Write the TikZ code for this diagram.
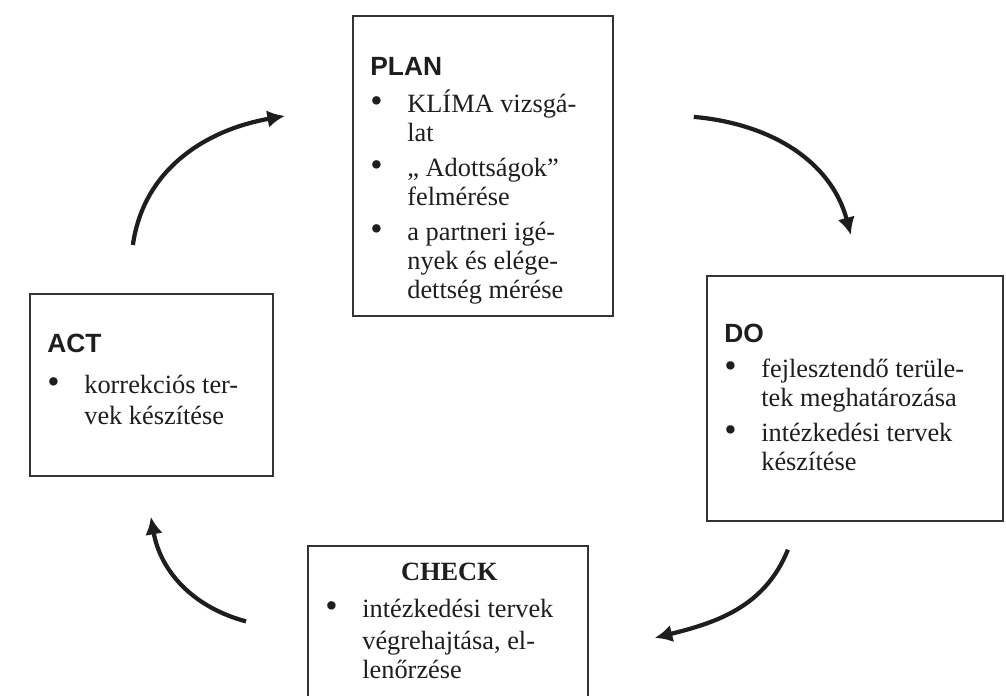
\documentclass[tikz,border=0pt]{standalone}
\usepackage{fontspec}
\setmainfont{Liberation Serif}
\setsansfont{Liberation Sans}
\usepackage{tikz}
\usetikzlibrary{calc,positioning,arrows.meta}
\usepackage{xcolor}
\definecolor{inkdark}{HTML}{1E1E1E}
\definecolor{boxline}{HTML}{333333}

\newcommand{\hd}[1]{{\sffamily\bfseries #1}}
\newcommand{\bl}{{\fontsize{20}{16}\selectfont\textbullet}}

\begin{document}
\begin{tikzpicture}[
      every node/.style={text=inkdark},
      pdcabox/.style={draw=boxline, line width=1pt, anchor=north west, inner sep=0pt},
      pdcatext/.style={anchor=base west, inner sep=0pt, font=\fontsize{15}{16.5}\selectfont},
      cyc/.style={-{Latex[length=10pt,width=10pt]}, line width=2.4pt, draw=inkdark}
    ]
      \def\bw{0.74cm}
      % page
      \fill[white] (0,0) rectangle (20.12,-13.9);
      \path[use as bounding box, clip] (0,0) rectangle (20.12,-13.9);

      % Boxes
      \node[pdcabox, minimum width=5.2cm, minimum height=6cm] (plan) at (7.04,-0.30) {};
      \node[pdcabox, minimum width=4.86cm, minimum height=3.64cm] (act) at (0.58,-5.86) {};
      \node[pdcabox, minimum width=5.92cm, minimum height=4.9cm] (do) at (14.12,-5.50) {};
      \node[pdcabox, minimum width=5.6cm, minimum height=3.3cm] (check) at (6.14,-10.90) {};

      % Texts
      \node[pdcatext] (plantxt) at ($(plan.north west)+(0.36,-1.2)$) {
        \begin{tabular}[t]{@{}p{\bw}@{}l@{}}
          \multicolumn{2}{@{}l@{}}{\hd{PLAN}}\\[3.5pt]
          \bl & KLÍMA vizsgá-\\
              & lat\\[3.5pt]
          \bl & „ Adottságok”\\
              & felmérése\\[3.5pt]
          \bl & a partneri igé-\\
              & nyek és elége-\\
              & dettség mérése
        \end{tabular}
      };
      \node[pdcatext] (acttxt) at ($(act.north west)+(0.36,-1.18)$) {
        \begin{tabular}[t]{@{}p{\bw}@{}l@{}}
          \multicolumn{2}{@{}l@{}}{\hd{ACT}}\\[7pt]
          \bl & korrekciós ter-\\[1.5pt]
              & vek készítése
        \end{tabular}
      };
      \node[pdcatext] (dotxt) at ($(do.north west)+(0.36,-1.34)$) {
        \begin{tabular}[t]{@{}p{\bw}@{}l@{}}
          \multicolumn{2}{@{}l@{}}{\hd{DO}}\\[3.5pt]
          \bl & fejlesztendő terüle-\\
              & tek meghatározása\\[3.5pt]
          \bl & intézkedési tervek\\
              & készítése
        \end{tabular}
      };
      \node[pdcatext] (checktxt) at ($(check.north west)+(0.36,-0.7)$) {
        \begin{tabular}[t]{@{}p{\bw}@{}l@{}}
          \multicolumn{2}{@{}c@{}}{\hspace{0.4cm}\bfseries CHECK}\\[5pt]
          \bl & intézkedési tervek\\[1.5pt]
              & végrehajtása, el-\\
              & lenőrzése
        \end{tabular}
      };

      % Cycle arrows
      \coordinate (s1) at ($(act.north)+(-0.37,0.96)$);
      \coordinate (e1) at ($(plan.west)+(-1.34,1.0)$);
      \coordinate (s2) at ($(plan.east)+(1.60,0.98)$);
      \coordinate (e2) at ($(do.north)+(-0.08,0.80)$);
      \coordinate (s3) at ($(do.south)+(-1.34,-0.56)$);
      \coordinate (e3) at ($(check.east)+(1.32,-0.19)$);
      \coordinate (s4) at ($(check.west)+(-1.22,0.14)$);
      \coordinate (e4) at ($(act.south)+(-0.01,-0.80)$);
      \foreach \s/\e/\o/\i in {s1/e1/82/190, s2/e2/-5/105, s3/e3/-112/14, s4/e4/165/-80}{
        \draw[cyc] (\s) to[out=\o, in=\i] (\e);
      }
    \end{tikzpicture}
\end{document}
